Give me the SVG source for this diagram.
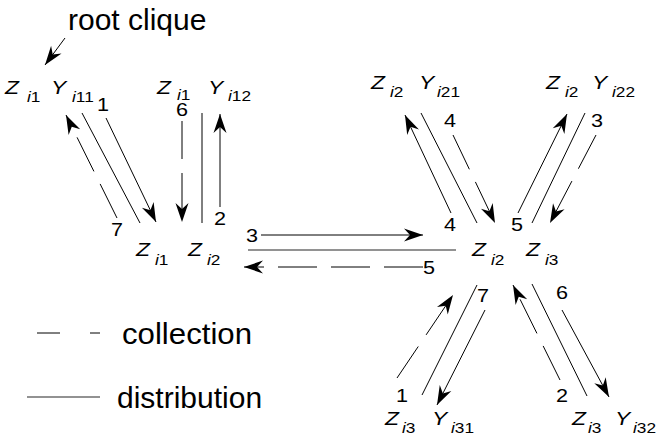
<svg xmlns="http://www.w3.org/2000/svg" width="657" height="444" viewBox="0 0 657 444">
<style>
text{font-family:"Liberation Sans",Arial,sans-serif;fill:#000}
.v{font-size:19px;font-style:italic}
.s{font-size:15px}
.s tspan.i{font-style:italic}
.n{font-size:18px;text-anchor:middle}
.big{font-size:30px}
.sol{stroke:#000;stroke-width:1;fill:none}
.arr{marker-end:url(#ah)}
.das{stroke-dasharray:38 14}
.sep{stroke:#000;stroke-width:1;fill:none}
.gsep{stroke:#6e6e6e;stroke-width:1.3;fill:none}
</style>
<defs>
<marker id="ah" viewBox="-20 -8 21 16" refX="0" refY="0" markerWidth="21" markerHeight="16" markerUnits="userSpaceOnUse" orient="auto">
<path d="M0,0 L-19,-6.5 L-13,0 L-19,6.5 Z" fill="#000"/>
</marker>
</defs>

<text class="big" x="68" y="30">root clique</text>

<g id="nodeA">
<text class="v" transform="translate(5,94) scale(1.2,1)">Z</text>
<text class="s" transform="translate(27,102) scale(1.15,1)"><tspan class="i">i</tspan>1</text>
<text class="v" transform="translate(51,94) scale(1.2,1)">Y</text>
<text class="s" transform="translate(72,102) scale(1.15,1)"><tspan class="i">i</tspan>11</text>
</g>
<g id="nodeB">
<text class="v" transform="translate(157,94) scale(1.2,1)">Z</text>
<text class="s" transform="translate(177,100) scale(1.15,1)"><tspan class="i">i</tspan>1</text>
<text class="v" transform="translate(208,94) scale(1.2,1)">Y</text>
<text class="s" transform="translate(228,101) scale(1.15,1)"><tspan class="i">i</tspan>12</text>
</g>
<g id="nodeC">
<text class="v" transform="translate(136,256) scale(1.2,1)">Z</text>
<text class="s" transform="translate(155,265) scale(1.15,1)"><tspan class="i">i</tspan>1</text>
<text class="v" transform="translate(188,256) scale(1.2,1)">Z</text>
<text class="s" transform="translate(207,265) scale(1.15,1)"><tspan class="i">i</tspan>2</text>
</g>
<g id="nodeD">
<text class="v" transform="translate(472,256) scale(1.2,1)">Z</text>
<text class="s" transform="translate(491,265) scale(1.15,1)"><tspan class="i">i</tspan>2</text>
<text class="v" transform="translate(526,256) scale(1.2,1)">Z</text>
<text class="s" transform="translate(545,265) scale(1.15,1)"><tspan class="i">i</tspan>3</text>
</g>
<g id="nodeE">
<text class="v" transform="translate(371,89) scale(1.2,1)">Z</text>
<text class="s" transform="translate(390,97) scale(1.15,1)"><tspan class="i">i</tspan>2</text>
<text class="v" transform="translate(419,89) scale(1.2,1)">Y</text>
<text class="s" transform="translate(437,97) scale(1.15,1)"><tspan class="i">i</tspan>21</text>
</g>
<g id="nodeF">
<text class="v" transform="translate(546,89) scale(1.2,1)">Z</text>
<text class="s" transform="translate(565,97) scale(1.15,1)"><tspan class="i">i</tspan>2</text>
<text class="v" transform="translate(592,89) scale(1.2,1)">Y</text>
<text class="s" transform="translate(612,97) scale(1.15,1)"><tspan class="i">i</tspan>22</text>
</g>
<g id="nodeG">
<text class="v" transform="translate(385,425) scale(1.2,1)">Z</text>
<text class="s" transform="translate(402,433) scale(1.15,1)"><tspan class="i">i</tspan>3</text>
<text class="v" transform="translate(432,425) scale(1.2,1)">Y</text>
<text class="s" transform="translate(451,433) scale(1.15,1)"><tspan class="i">i</tspan>31</text>
</g>
<g id="nodeH">
<text class="v" transform="translate(572,425) scale(1.2,1)">Z</text>
<text class="s" transform="translate(588,433) scale(1.15,1)"><tspan class="i">i</tspan>3</text>
<text class="v" transform="translate(615,425) scale(1.2,1)">Y</text>
<text class="s" transform="translate(633,433) scale(1.15,1)"><tspan class="i">i</tspan>32</text>
</g>

<g id="connectors">
<line class="sol arr" x1="65" y1="38" x2="45" y2="65"/>
<!-- A - C -->
<line class="sol das arr" x1="117" y1="218" x2="66" y2="115"/>
<line class="sep" x1="82" y1="113" x2="140" y2="223"/>
<line class="sol arr" x1="106" y1="118" x2="156" y2="222"/>
<!-- B - C -->
<line class="sol das arr" x1="182" y1="121" x2="182" y2="222"/>
<line class="sep" x1="202" y1="113" x2="202" y2="223"/>
<line class="sol arr" x1="220" y1="207" x2="220" y2="114"/>
<!-- C - D -->
<line class="sol arr" x1="261" y1="235" x2="423" y2="235"/>
<line class="gsep" x1="248" y1="250" x2="456" y2="250"/>
<line class="sol arr" x1="423" y1="267" x2="244" y2="267" stroke-dasharray="39 14"/>
<!-- D - E -->
<line class="sol arr" x1="451" y1="213" x2="405" y2="115"/>
<line class="sep" x1="421" y1="113" x2="477" y2="223"/>
<line class="sol das arr" x1="453" y1="135" x2="495" y2="223"/>
<!-- D - F -->
<line class="sol arr" x1="518" y1="213" x2="567" y2="114"/>
<line class="sep" x1="585" y1="113" x2="532" y2="223"/>
<line class="sol das arr" x1="596" y1="135" x2="550" y2="223"/>
<!-- D - G -->
<line class="sol das arr" x1="397" y1="378" x2="453" y2="295"/>
<line class="sep" x1="477" y1="285" x2="422" y2="395"/>
<line class="sol arr" x1="485" y1="310" x2="437" y2="405"/>
<!-- D - H -->
<line class="sol das arr" x1="560" y1="380" x2="513" y2="285"/>
<line class="sep" x1="532" y1="284" x2="587" y2="396"/>
<line class="sol arr" x1="562" y1="310" x2="609" y2="397"/>
</g>

<g id="labels">
<text class="n" transform="translate(103,111) scale(1.2,1)">1</text>
<text class="n" transform="translate(117,236) scale(1.2,1)">7</text>
<text class="n" transform="translate(182,116) scale(1.2,1)">6</text>
<text class="n" transform="translate(220,225) scale(1.2,1)">2</text>
<text class="n" transform="translate(252,242) scale(1.2,1)">3</text>
<text class="n" transform="translate(450,231) scale(1.2,1)">4</text>
<text class="n" transform="translate(429,274) scale(1.2,1)">5</text>
<text class="n" transform="translate(450,127) scale(1.2,1)">4</text>
<text class="n" transform="translate(517,231) scale(1.2,1)">5</text>
<text class="n" transform="translate(597,127) scale(1.2,1)">3</text>
<text class="n" transform="translate(483,302) scale(1.2,1)">7</text>
<text class="n" transform="translate(402,402) scale(1.2,1)">1</text>
<text class="n" transform="translate(562,299) scale(1.2,1)">6</text>
<text class="n" transform="translate(562,402) scale(1.2,1)">2</text>
</g>

<g id="legend">
<line class="sol" x1="37" y1="333" x2="60" y2="333"/>
<line class="sol" x1="90" y1="333" x2="100" y2="333"/>
<text class="big" x="122" y="344" textLength="130" lengthAdjust="spacingAndGlyphs">collection</text>
<line class="gsep" x1="27" y1="397" x2="100" y2="397"/>
<text class="big" x="117" y="408">distribution</text>
</g>
</svg>
